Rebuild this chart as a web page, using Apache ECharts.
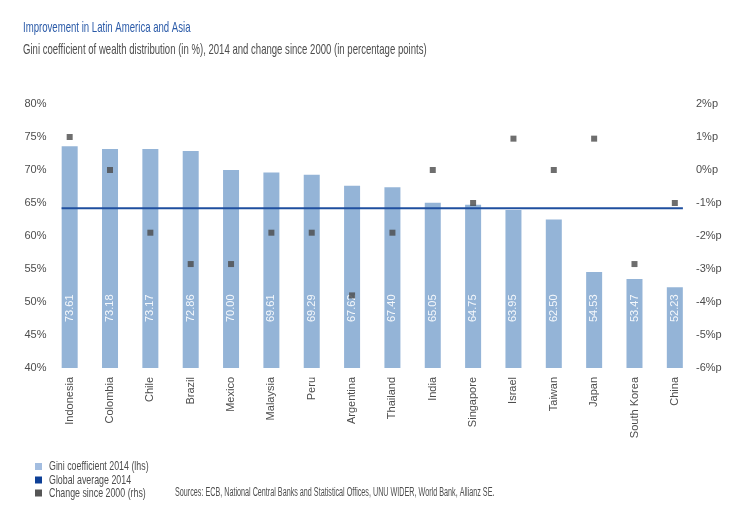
<!DOCTYPE html>
<html>
<head>
<meta charset="utf-8">
<script src="https://cdn.jsdelivr.net/npm/echarts@6/dist/echarts.min.js"></script>
<style>html,body{margin:0;padding:0;background:#fff}#c{width:751px;height:517px}</style>
</head>
<body>
<div id="c"></div>
<script>
const categories = ["Indonesia","Colombia","Chile","Brazil","Mexico","Malaysia","Peru","Argentina","Thailand","India","Singapore","Israel","Taiwan","Japan","South Korea","China"];
const gini2014 = [73.61,73.18,73.17,72.86,70.00,69.61,69.29,67.62,67.40,65.05,64.75,63.95,62.50,54.53,53.47,52.23];
const change2000 = [1.0,0,-1.9,-2.85,-2.85,-1.9,-1.9,-3.8,-1.9,0,-1,0.95,0,0.95,-2.85,-1];
const globalAverage = 64.2;
const leftTicks = {min:40, max:80, interval:5};
const rightTicks = {min:-6, max:2, interval:1};
const seriesNames = ['Gini coefficient 2014 (lhs)','Global average 2014','Change since 2000 (rhs)'];
const titleText = 'Improvement in Latin America and Asia';
const subtitleText = 'Gini coefficient of wealth distribution (in %), 2014 and change since 2000 (in percentage points)';
const sourceText = 'Sources: ECB, National Central Banks and Statistical Offices, UNU WIDER, World Bank, Allianz SE.';

const FONT = "'Liberation Sans',Arial,sans-serif";
const legendColors = ['#a3bde0','#0d3f96','#555555'];

function condText(text, x, y, size, color, scale){
  return {type:'text', x:x, y:y, scaleX:scale, originX:0, silent:true,
    style:{text:text, fill:color, font:size+'px '+FONT, textVerticalAlign:'middle', textAlign:'left'}};
}
const graphics = [
  condText(titleText, 23, 28, 15, '#2a5aa8', 0.64),
  condText(subtitleText, 23, 50, 15, '#4d4d4d', 0.638),
  condText(sourceText, 175, 493, 12, '#4d4d4d', 0.6)
];
const legendY = [466.5, 480, 493];
seriesNames.forEach((n,i)=>{
  graphics.push({type:'rect', shape:{x:35, y:legendY[i]-3.5, width:7, height:7}, style:{fill:legendColors[i]}, silent:true});
  graphics.push(condText(n, 49, legendY[i], 13, '#4d4d4d', 0.68));
});

const chart = echarts.init(document.getElementById('c'));
chart.setOption({
  animation:false,
  textStyle:{fontFamily:FONT},
  graphic:graphics,
  grid:{left:49.5, right:56, top:104, bottom:149},
  xAxis:[
    {type:'category', data:categories, axisLine:{show:false}, axisTick:{show:false},
     axisLabel:{rotate:90, margin:9, color:'#4d4d4d', fontSize:11, fontFamily:FONT, interval:0}},
    {type:'value', min:-0.5, max:categories.length-0.5, show:false}
  ],
  yAxis:[
    {type:'value', min:leftTicks.min, max:leftTicks.max, interval:leftTicks.interval, splitLine:{show:false}, axisLine:{show:false}, axisTick:{show:false},
     axisLabel:{formatter:'{value}%', color:'#4d4d4d', fontSize:11, margin:3, fontFamily:FONT}},
    {type:'value', min:rightTicks.min, max:rightTicks.max, interval:rightTicks.interval, splitLine:{show:false}, axisLine:{show:false}, axisTick:{show:false},
     axisLabel:{formatter:'{value}%p', color:'#4d4d4d', fontSize:11, margin:1, fontFamily:FONT}}
  ],
  series:[
    {name:seriesNames[0], type:'bar', data:gini2014, barWidth:16, itemStyle:{color:'#94b4d7'},
     label:{show:true, position:'insideBottom', distance:46, rotate:90, align:'left', verticalAlign:'middle',
       color:'rgba(255,255,255,0.9)', fontSize:11, fontFamily:FONT, formatter:p=>p.value.toFixed(2)}},
    {name:seriesNames[1], type:'line', xAxisIndex:1, data:[[-0.2,globalAverage],[categories.length-0.8,globalAverage]],
     symbol:'none', lineStyle:{color:'#1f4f9f', width:2}, itemStyle:{color:legendColors[1]}, z:3},
    {name:seriesNames[2], type:'scatter', yAxisIndex:1, data:change2000, symbol:'rect', symbolSize:6, itemStyle:{color:'#4a4a4a'}, z:4}
  ]
});
</script>
</body>
</html>
